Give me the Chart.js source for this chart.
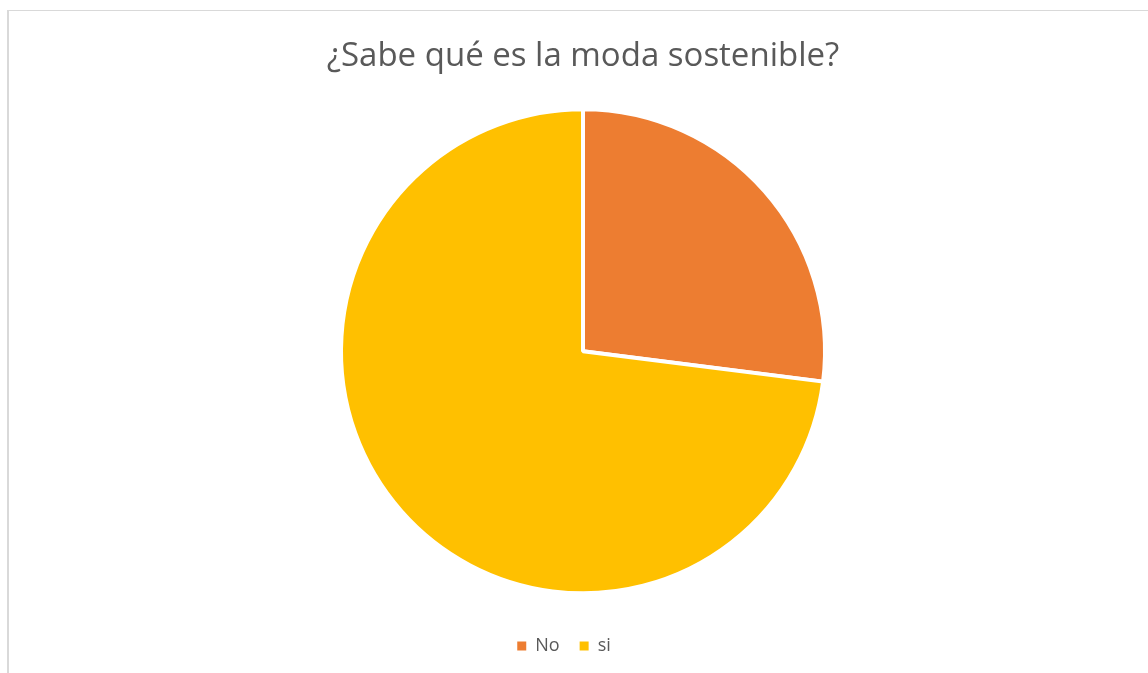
<!DOCTYPE html>
<html>
<head>
<meta charset="utf-8">
<script src="https://cdn.jsdelivr.net/npm/chart.js@4"></script>
<style>
  html, body { margin: 0; padding: 0; background: #fff; overflow: hidden; width: 1148px; height: 673px; }
  #frame { position: absolute; left: 7px; top: 10px; width: 1160px; height: 680px;
           border-left: 2px solid #d9d9d9; border-top: 1px solid #d9d9d9; }
  #wrap { position: absolute; left: 8px; top: 10px; width: 1150px; height: 663px; }
</style>
</head>
<body>
<div id="frame"></div>
<div id="wrap"><canvas id="c"></canvas></div>
<script>
const titleText = '¿Sabe qué es la moda sostenible?';
const categories = ['No', 'si'];
const values = [27, 73];
const colors = ['#ED7D31', '#FFC000'];

const legendShift = {
  id: 'legendShift',
  afterLayout(chart) {
    if (chart.legend) {
      chart.legend.left -= 19;
      chart.legend.right -= 19;
    }
  }
};

new Chart(document.getElementById('c'), {
  type: 'pie',
  data: {
    labels: categories,
    datasets: [{
      data: values,
      backgroundColor: colors,
      borderColor: '#ffffff',
      borderWidth: 4,
      radius: 242
    }]
  },
  options: {
    responsive: true,
    maintainAspectRatio: false,
    animation: false,
    layout: { padding: { bottom: 8 } },
    plugins: {
      title: {
        display: true,
        text: titleText,
        color: '#595959',
        font: { family: 'Open Sans', size: 33, weight: 'normal' },
        padding: { top: 27, bottom: 9 }
      },
      legend: {
        position: 'bottom',
        labels: {
          color: '#595959',
          font: { family: 'Open Sans', size: 18 },
          boxWidth: 9,
          boxHeight: 9,
          padding: 20,
          generateLabels: function (chart) {
            const items = Chart.controllers.pie.overrides.plugins.legend.labels.generateLabels(chart);
            items.forEach(function (it) { it.lineWidth = 0; it.strokeStyle = 'rgba(0,0,0,0)'; });
            return items;
          }
        }
      },
      tooltip: { enabled: false }
    }
  },
  plugins: [legendShift]
});
</script>
</body>
</html>
